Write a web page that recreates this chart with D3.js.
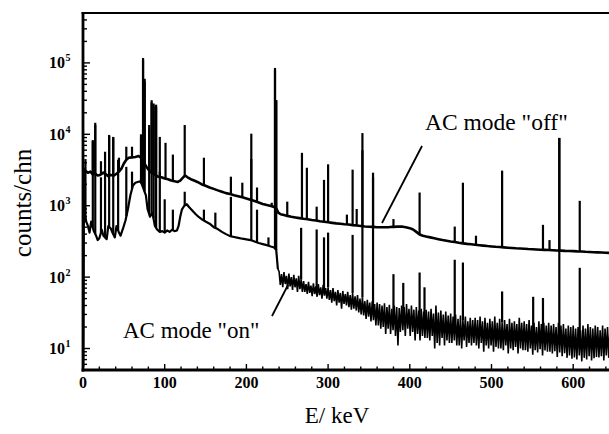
<!DOCTYPE html>
<html><head><meta charset="utf-8">
<script src="https://cdn.jsdelivr.net/npm/d3@7"></script>
<style>body{margin:0;background:#fff} svg{display:block}</style>
</head><body>
<svg id="c" width="609" height="434"></svg>
<script>
// ---------- data ----------
const xTickValues = [0, 100, 200, 300, 400, 500, 600];
const yTickExponents = [1, 2, 3, 4, 5];

// AC mode "off": continuum [E keV, counts/chn]
const offContinuum = [
[0,5.5],[0.8,3300],[3,3100],[6,2900],[9,3000],[12,2750],[15,2800],[18,2650],[21,2700],[25,2900],[28,2750],[31,2600],[34,2700],[38,2650],[41,2800],[44,3000],[47,3300],[50,3900],[53,4400],[56,4700],[60,4750],[64,4800],[68,4950],[71,4700],[73,4300],[77,3600],[80,3200],[84,2900],[88,2700],[92,2550],[96,2500],[100,2400],[104,2350],[108,2250],[112,2200],[116,2150],[119,2250],[122,2450],[125,2650],[128,2500],[132,2350],[136,2250],[140,2150],[145,2000],[150,1900],[155,1800],[160,1720],[165,1640],[170,1570],[175,1500],[180,1460],[185,1400],[190,1360],[195,1310],[200,1260],[205,1210],[210,1160],[215,1110],[220,1060],[225,1020],[230,990],[234,960],[237,900],[239,800],[242,760],[246,740],[250,720],[255,700],[260,685],[265,670],[270,655],[275,645],[280,630],[285,620],[290,605],[295,595],[300,585],[305,575],[310,565],[315,560],[320,550],[325,545],[330,535],[335,528],[340,520],[345,512],[350,508],[355,505],[360,500],[365,498],[370,500],[375,502],[380,506],[385,510],[390,512],[395,500],[400,485],[404,465],[408,430],[412,395],[416,380],[420,370],[425,360],[430,350],[435,340],[440,330],[445,322],[450,315],[455,310],[460,302],[465,297],[470,292],[475,288],[480,284],[485,280],[490,276],[495,272],[500,269],[505,266],[510,264],[515,261],[520,258],[525,256],[530,253],[535,251],[540,249],[545,247],[550,246],[555,244],[560,242],[565,241],[570,240],[575,238],[580,236],[585,235],[590,233],[595,232],[600,231],[605,229],[610,228],[615,226],[620,225],[625,223],[630,222],[635,221],[640,219],[645,218],[650,217],[655,216],[660,215]
];

// AC mode "on": continuum below 240 keV [E keV, counts/chn]
const onContinuum = [
[0,5.5],[0.8,1200],[2,800],[4,600],[6,520],[8,420],[10,600],[13,450],[16,380],[18,330],[20,350],[23,460],[25,380],[29,340],[31,520],[34,480],[36,420],[39,360],[41,520],[44,420],[46,380],[49,480],[52,620],[55,900],[58,1400],[61,1900],[64,2100],[67,2150],[70,2200],[72,2000],[77,1400],[79,900],[82,700],[85,800],[88,520],[91,460],[94,430],[97,440],[100,420],[103,450],[106,430],[109,460],[112,440],[115,450],[117,520],[119,700],[121,880],[124,1000],[127,1050],[130,950],[134,850],[138,760],[142,690],[146,640],[150,600],[155,560],[160,500],[165,470],[170,430],[175,400],[180,375],[185,365],[190,355],[195,345],[200,338],[205,330],[210,315],[215,300],[220,290],[225,280],[230,268],[234,260],[236.5,240],[238.5,130]
];

// AC mode "on" above 240 keV: noisy channel contents, high and low value in every 3 keV step
const onTailStart = 240, onTailStep = 3;
const onTailHigh = [
120,110,118,104,112,100,108,96,104,92,
88,80,86,76,82,74,80,72,78,70,
72,66,70,62,66,60,64,58,62,56,
60,54,56,50,52,46,48,44,46,42,
44,42,40,43,38,41,36,40,38,37,
40,38,42,36,40,35,38,34,36,33,
35,33,36,31,40,32,34,30,33,29,
31,28,30,26,29,25,28,24,27,25,
27,25,28,24,27,23,26,24,28,23,
26,23,25,22,26,23,24,22,27,23,
24,22,25,21,23,20,24,22,23,21,
23,21,22,20,23,21,22,19,21,20,
21,19,20,18,21,19,22,20,19,21,
20,18,21,19,20,18,19,21,18,20,
19
];
const onTailLow = [
78,72,80,68,74,66,72,62,68,62,
62,58,60,54,58,53,56,50,55,50,
48,44,46,40,44,36,42,40,38,35,
36,34,32,30,29,26,28,24,25,21,
21,19,20,16,19,16,18,15,11,17,
18,15,19,15,17,13,16,13,15,14,
14,13,15,10,12,11,14,11,13,12,
12,13,11,11,10,13,10.5,12,11,12,
11,10,12,9,11,10,11,9,10.5,10,
10,9.5,11,8.5,10,9.5,10.5,8.5,10,9.5,
9.5,9,10,8.2,9.5,8.8,9.8,8,9.4,9,
9,8.5,9.2,7.6,8.8,7.8,8.6,7.4,8,7.2,
7.5,7,8,6.6,7.4,7,7.8,6.8,7.3,7.6,
7.5,7.8,6.8,8,7.4,7.7,7,8,7.5,7.6,
7.5
];

// peaks [E keV, peak counts/chn]
const offPeaks = [
[3,4500],[12,8300],[15,14500],[22,4200],[27,5700],[32,9800],[37,9200],[44,4700],[53,6700],[60,6700],[71,10000],[73.5,117000],[75.5,60000],[81,13500],[84,30000],[86.5,27000],[89.5,26000],[94,9200],[101,7600],[110,5200],[124.5,13500],[148,4700],[181,2550],[195,2100],[206,10200],[213,1800],[231,1100],[235,85000],[236.5,30000],[250,1140],[268,5500],[274,3400],[286,970],[295,2300],[300,3800],[323,750],[330,3200],[335,900],[342,10400],[355,2900],[380,650],[412,1530],[455,510],[465,2100],[481,380],[513,3100],[563,540],[571,330],[583,8900],[608,1170]
];
const onPeaks = [
[3,3000],[12,8000],[15,13500],[22,2500],[27,3000],[32,9500],[37,9000],[43,4400],[53,3500],[60,3000],[71,9000],[73.5,110000],[75.5,55000],[81,12000],[84,28000],[86.5,25000],[89.5,24000],[94,3000],[100,1230],[110,880],[124.5,1570],[148,880],[162,800],[181,1330],[206,4500],[213,880],[227,360],[235,80000],[236.5,30000],[267,490],[286,465],[295,360],[300,420],[330,390],[342,6000],[355,2500],[380,110],[392,83],[412,116],[418,72],[455,175],[465,160],[513,63],[551,53],[563,51],[583,8900],[608,135]
];

const offLabel = 'AC mode "off"';
const onLabel = 'AC mode "on"';
const xTitle = 'E/ keV';
const yTitle = 'counts/chn';

// ---------- drawing ----------
const svg = d3.select('#c');
const L = 83, T = 13, B = 370, R = 609;
const x = d3.scaleLinear().domain([0, 660]).range([L, L + 0.817 * 660]);
const y = d3.scaleLog().domain([5, 5e5]).range([B, T]);
const serif = '"Liberation Serif","Times New Roman",Times,serif';

svg.append('defs').append('clipPath').attr('id', 'clip')
  .append('rect').attr('x', L).attr('y', T).attr('width', R - L + 20).attr('height', B - T);

const plot = svg.append('g').attr('clip-path', 'url(#clip)');
const line = d3.line().x(d => x(d[0])).y(d => y(d[1]));

// tail: in every step the high value, then the low value half a step later
const onTailPoints = [];
onTailHigh.forEach((hi, i) => {
  const e = onTailStart + i * onTailStep;
  onTailPoints.push([e, hi], [e + onTailStep / 2, onTailLow[i]]);
});
const onSeries = onContinuum.concat(onTailPoints);

function baseScale(series) {
  return d3.scaleLinear().domain(series.map(d => d[0])).range(series.map(d => d[1]));
}
const offBase = baseScale(offContinuum);
const onBase = baseScale(onSeries);

// on spectrum
plot.append('path').datum(onContinuum).attr('d', line)
  .attr('fill', 'none').attr('stroke', '#000').attr('stroke-width', 2.2).attr('stroke-linejoin', 'round');
plot.append('path').datum([onContinuum[onContinuum.length - 1]].concat(onTailPoints)).attr('d', line)
  .attr('fill', 'none').attr('stroke', '#000').attr('stroke-width', 1.6).attr('stroke-linejoin', 'miter').attr('stroke-miterlimit', 2);
plot.selectAll('line.onpk').data(onPeaks).join('line').attr('class', 'onpk')
  .attr('x1', d => x(d[0])).attr('x2', d => x(d[0]))
  .attr('y1', d => y(d[1])).attr('y2', d => y(onBase(d[0])))
  .attr('stroke', '#000').attr('stroke-width', 2.2);

// off spectrum
plot.append('path').datum(offContinuum).attr('d', line)
  .attr('fill', 'none').attr('stroke', '#000').attr('stroke-width', 2.6).attr('stroke-linejoin', 'round');
plot.selectAll('line.offpk').data(offPeaks).join('line').attr('class', 'offpk')
  .attr('x1', d => x(d[0])).attr('x2', d => x(d[0]))
  .attr('y1', d => y(d[1])).attr('y2', d => y(offBase(d[0])))
  .attr('stroke', '#000').attr('stroke-width', 2.2);

// frame
svg.append('line').attr('x1', L).attr('x2', L).attr('y1', T - 1).attr('y2', B + 1.4).attr('stroke', '#000').attr('stroke-width', 2.8);
svg.append('line').attr('x1', L - 1.4).attr('x2', R).attr('y1', B).attr('y2', B).attr('stroke', '#000').attr('stroke-width', 2.8);
svg.append('line').attr('x1', L - 1.4).attr('x2', R).attr('y1', T).attr('y2', T).attr('stroke', '#000').attr('stroke-width', 2.2);

// x ticks
const xMinor = d3.range(0, 661, 20);
svg.selectAll('line.xt').data(xMinor).join('line').attr('class', 'xt')
  .attr('x1', d => x(d)).attr('x2', d => x(d))
  .attr('y1', B).attr('y2', d => B - (d % 100 === 0 ? 6 : 3.5))
  .attr('stroke', '#000').attr('stroke-width', 1.4);
svg.selectAll('text.xl').data(xTickValues).join('text').attr('class', 'xl')
  .attr('x', d => x(d)).attr('y', 388).attr('text-anchor', 'middle')
  .attr('font-family', serif).attr('font-weight', 'bold').attr('font-size', 16)
  .text(d => d);

// y ticks
const yMinor = [];
for (let e = 0; e <= 5; e++) for (let k = 1; k <= 9; k++) {
  const v = k * Math.pow(10, e);
  if (v >= 5 && v <= 5e5) yMinor.push({v, major: k === 1});
}
svg.selectAll('line.yt').data(yMinor).join('line').attr('class', 'yt')
  .attr('x1', L).attr('x2', d => L + (d.major ? 7 : 4))
  .attr('y1', d => y(d.v)).attr('y2', d => y(d.v))
  .attr('stroke', '#000').attr('stroke-width', 1.4);
const yl = svg.selectAll('g.yl').data(yTickExponents).join('g').attr('class', 'yl')
  .attr('transform', d => `translate(0,${y(Math.pow(10, d))})`);
yl.append('text').attr('x', 65).attr('y', 5.5).attr('text-anchor', 'end')
  .attr('font-family', serif).attr('font-weight', 'bold').attr('font-size', 16).text('10');
yl.append('text').attr('x', 65.5).attr('y', -1.5)
  .attr('font-family', serif).attr('font-weight', 'bold').attr('font-size', 10).text(d => d);

// titles
svg.append('text').attr('x', 337).attr('y', 423).attr('text-anchor', 'middle')
  .attr('font-family', serif).attr('font-size', 23).text(xTitle);
svg.append('text').attr('transform', 'translate(31,203) rotate(-90)').attr('text-anchor', 'middle')
  .attr('font-family', serif).attr('font-size', 25).text(yTitle);

// annotations
svg.append('text').attr('x', 425).attr('y', 130)
  .attr('font-family', serif).attr('font-size', 23.5).text(offLabel);
svg.append('line').attr('x1', 422).attr('y1', 146).attr('x2', 382).attr('y2', 223)
  .attr('stroke', '#000').attr('stroke-width', 1.8);
svg.append('text').attr('x', 123).attr('y', 338)
  .attr('font-family', serif).attr('font-size', 23).text(onLabel);
svg.append('line').attr('x1', 272).attr('y1', 316).attr('x2', 288).attr('y2', 285)
  .attr('stroke', '#000').attr('stroke-width', 1.8);
</script>
</body></html>
